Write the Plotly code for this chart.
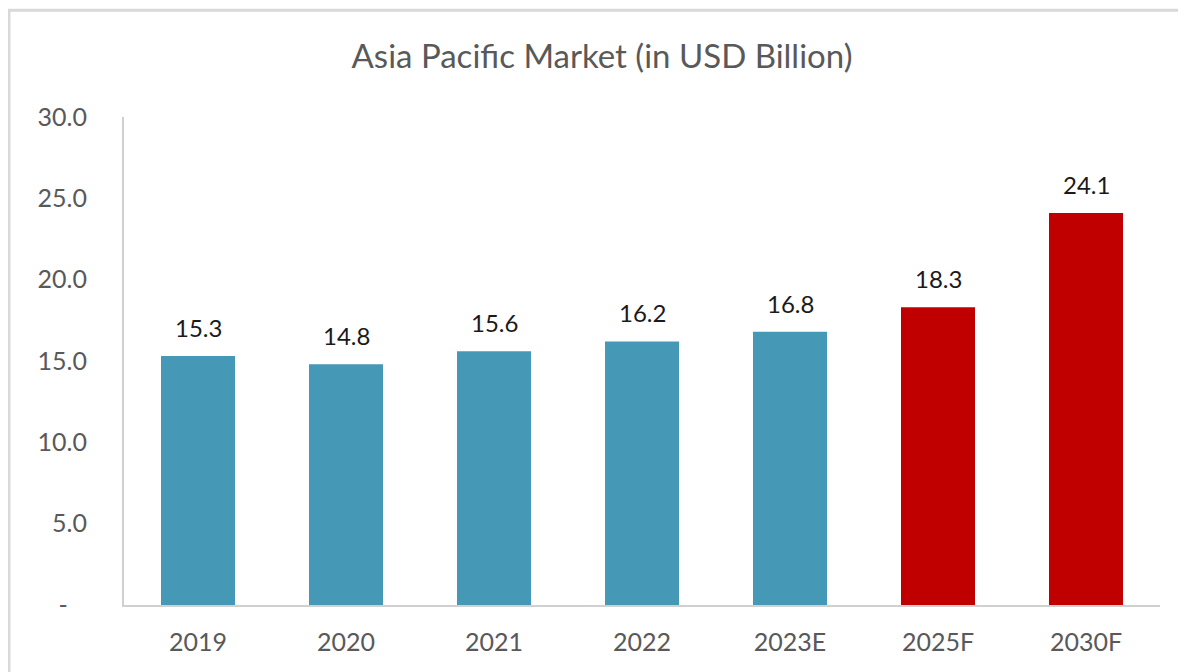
import plotly.graph_objects as go

categories = ["2019", "2020", "2021", "2022", "2023E", "2025F", "2030F"]
values = [15.3, 14.8, 15.6, 16.2, 16.8, 18.3, 24.1]
bar_colors = ["#4599B7"] * 5 + ["#C00000"] * 2
y_tickvals = [0, 5, 10, 15, 20, 25, 30]
y_ticktext = ["-\u00a0\u00a0\u00a0", "5.0", "10.0", "15.0", "20.0", "25.0", "30.0"]
title_text = "Asia Pacific Market (in USD Billion)"

FONT = "Lato, 'Open Sans', sans-serif"

fig = go.Figure()
fig.add_trace(go.Bar(
    x=categories, y=values,
    marker=dict(color=bar_colors, line=dict(width=0)),
    hoverinfo="x+y",
))

for i, (c, v) in enumerate(zip(categories, values)):
    fig.add_annotation(
        x=i, y=v, text=f"{v:.1f}", showarrow=False,
        yanchor="bottom", yshift=12,
        font=dict(family=FONT, size=24, color="#1a1a1a"),
    )

# outer light-gray frame
fig.add_shape(type="rect", xref="paper", yref="paper",
              x0=-0.111, y0=-0.3, x1=1.2, y1=1.219,
              line=dict(color="#D9D9D9", width=3), fillcolor="rgba(0,0,0,0)",
              layer="below")

# page body has an 8px margin, so the figure is sized/offset to compensate
fig.update_layout(
    width=1178, height=664,
    autotypenumbers="strict",
    margin=dict(l=116, r=26, t=109, b=67, autoexpand=False),
    paper_bgcolor="white", plot_bgcolor="white",
    bargap=0.5,
    showlegend=False,
    title=dict(text=title_text, x=594 / 1178, xref="container", xanchor="center",
               y=1 - 48 / 664, yref="container", yanchor="middle",
               font=dict(family=FONT, size=33, color="#595959")),
    font=dict(family=FONT, color="#595959"),
    xaxis=dict(
        type="category", automargin=False,
        showline=True, linecolor="#D0D0D0", linewidth=2,
        showgrid=False, ticks="", ticklabelstandoff=14,
        tickfont=dict(family=FONT, size=25, color="#595959"),
    ),
    yaxis=dict(
        range=[0, 30], tickvals=y_tickvals, ticktext=y_ticktext, automargin=False,
        showline=True, linecolor="#D0D0D0", linewidth=2,
        showgrid=False, zeroline=False, ticks="", ticklabelstandoff=30,
        tickfont=dict(family=FONT, size=25, color="#595959"),
    ),
)

fig.write_html("out.html")
